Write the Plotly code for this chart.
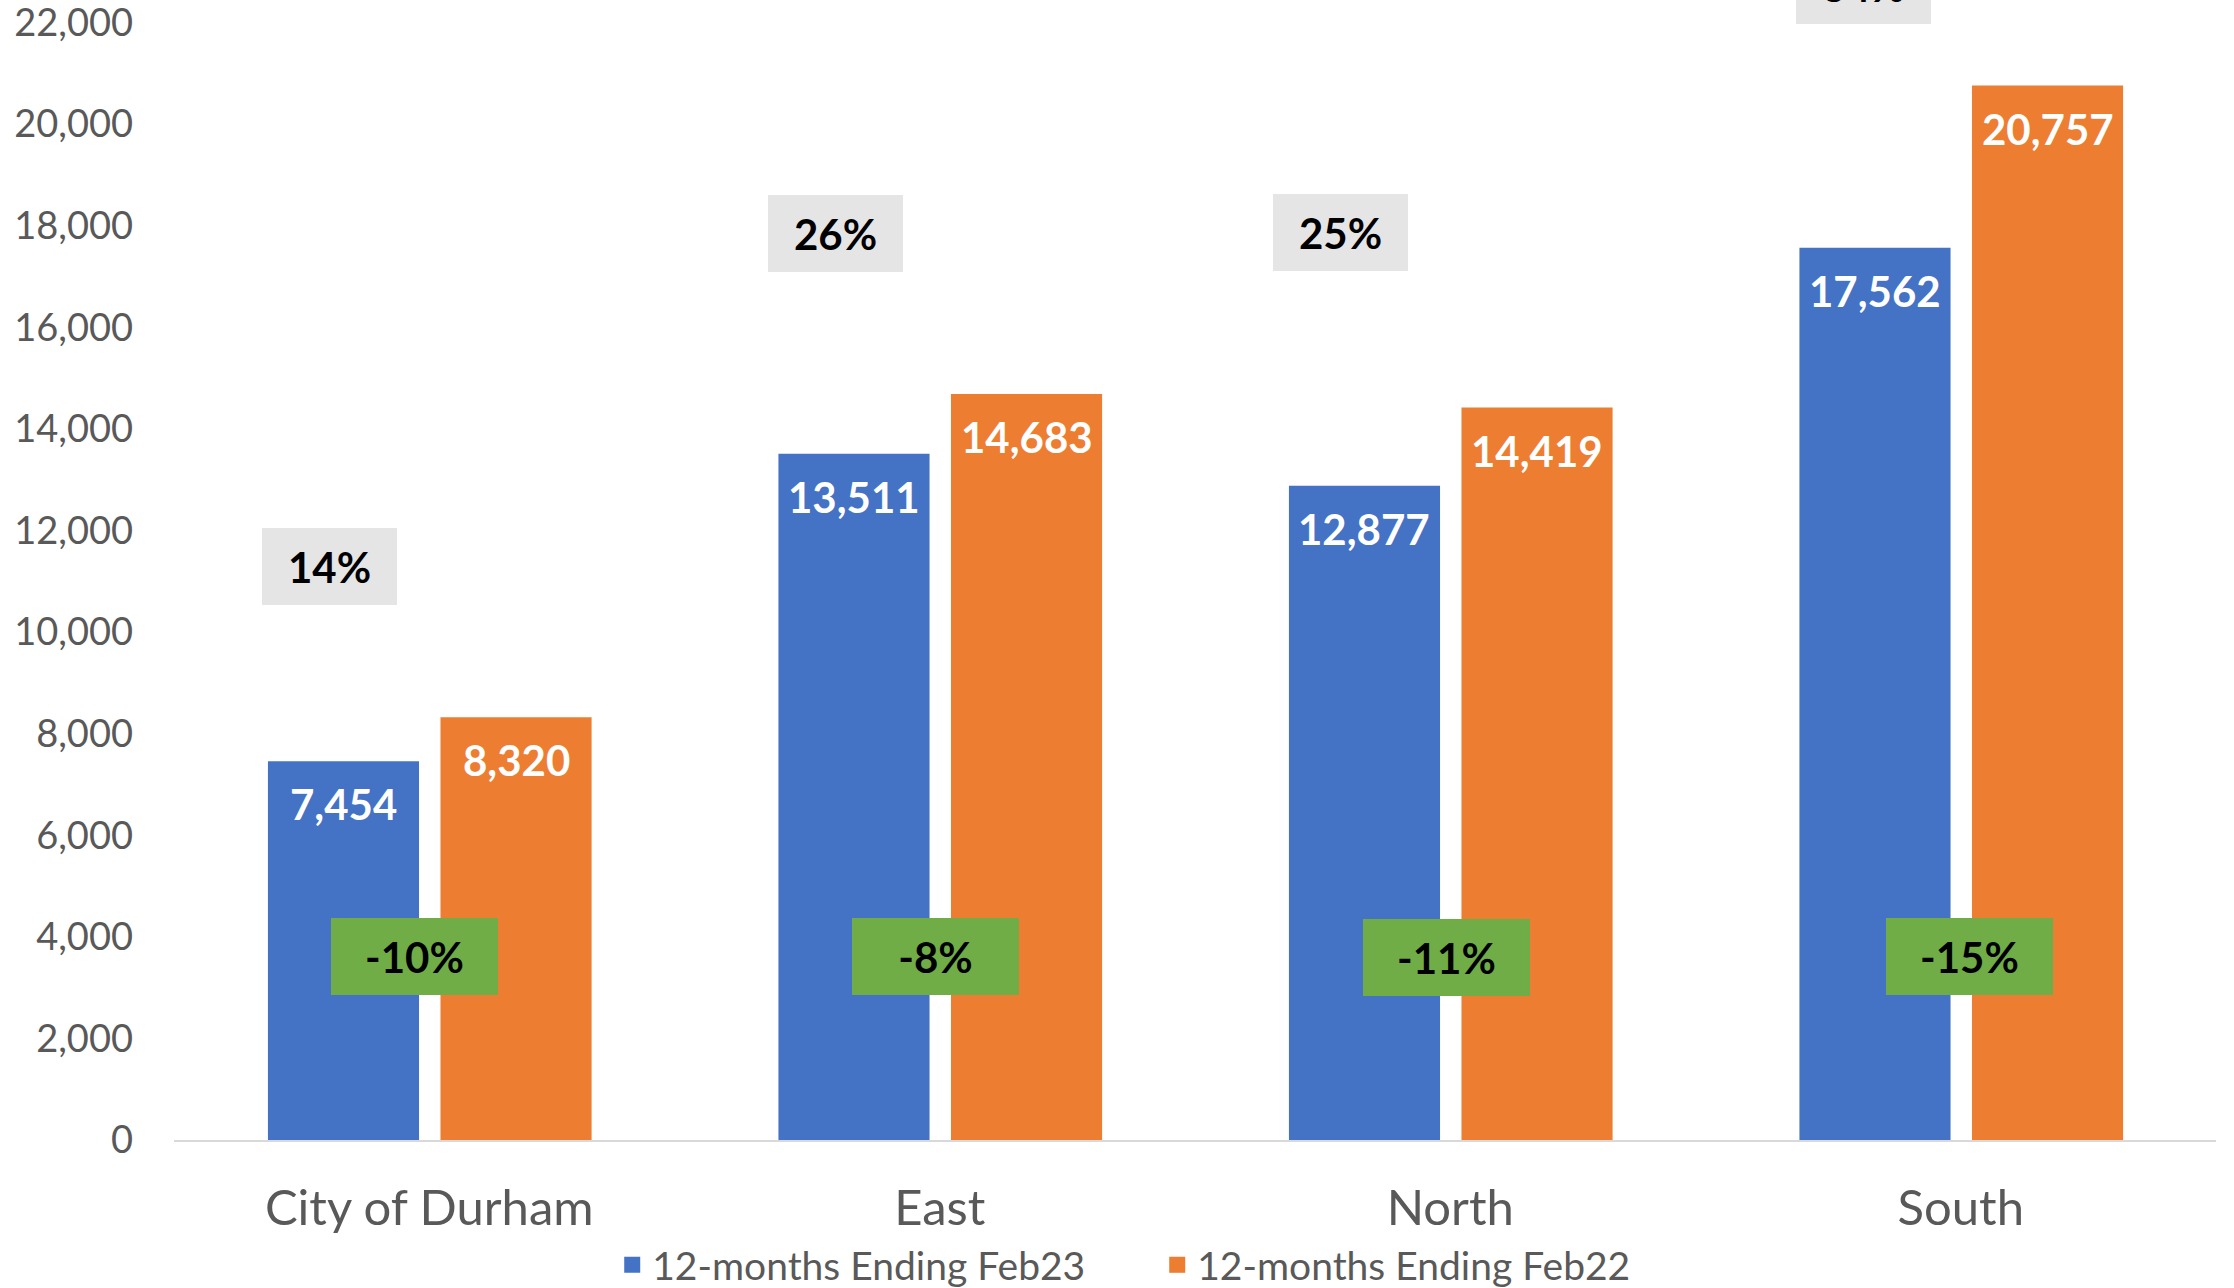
import plotly.graph_objects as go

categories = ["City of Durham", "East", "North", "South"]
feb23 = [7454, 13511, 12877, 17562]
feb22 = [8320, 14683, 14419, 20757]
series_names = ["12-months Ending Feb23", "12-months Ending Feb22"]
grey_labels = ["14%", "26%", "25%", "34%"]
grey_y = [11280, 17850, 17870, 22730]
green_labels = ["-10%", "-8%", "-11%", "-15%"]
green_y = [3620, 3620, 3600, 3620]
y_ticks = list(range(0, 22001, 2000))

BLUE = "#4472C4"
ORANGE = "#ED7D31"
GREEN = "#70AD47"
GREY = "#E5E5E5"
TXT = "#595959"
FONT = "Lato"

BAR_W = 0.296
OFF_BLUE = -0.316
OFF_ORANGE = 0.022
Y_TOP = 22441
grey_dx = [-0.195, -0.204, -0.215, -0.190]
green_dx = [-0.028, -0.008, -0.008, 0.017]

fig = go.Figure()
fig.add_trace(go.Bar(x=categories, y=feb23, name=series_names[0],
                     marker=dict(color=BLUE, line=dict(width=0)),
                     width=BAR_W, offset=OFF_BLUE, showlegend=False))
fig.add_trace(go.Bar(x=categories, y=feb22, name=series_names[1],
                     marker=dict(color=ORANGE, line=dict(width=0)),
                     width=BAR_W, offset=OFF_ORANGE, showlegend=False))
# legend entries (bigger square swatches)
for nm, col in zip(series_names, (BLUE, ORANGE)):
    fig.add_trace(go.Scatter(x=[None], y=[None], mode="markers", name=nm,
                             marker=dict(symbol="square", size=23, color=col),
                             showlegend=True))

ann = []
for i in range(len(categories)):
    for vals, off in ((feb23, OFF_BLUE), (feb22, OFF_ORANGE)):
        ann.append(dict(x=i + off + BAR_W / 2, y=vals[i], xref="x", yref="y",
                        text=f"<b>{vals[i]:,}</b>", showarrow=False,
                        yanchor="middle", yshift=-43,
                        font=dict(family=FONT, size=42, color="white")))
    ann.append(dict(x=i + grey_dx[i], y=grey_y[i] / Y_TOP, xref="x", yref="paper",
                    text=f"<b>{grey_labels[i]}</b>", showarrow=False,
                    xanchor="center", yanchor="middle",
                    bgcolor=GREY, width=135, height=77, borderpad=0,
                    borderwidth=0, align="center", valign="middle",
                    font=dict(family=FONT, size=42, color="black")))
    ann.append(dict(x=i + green_dx[i], y=green_y[i], xref="x", yref="y",
                    text=f"<b>{green_labels[i]}</b>", showarrow=False,
                    xanchor="center", yanchor="middle",
                    bgcolor=GREEN, width=167, height=77, borderpad=0,
                    borderwidth=0, align="center", valign="middle",
                    font=dict(family=FONT, size=42, color="black")))

fig.update_layout(
    width=2234, height=1288,
    margin=dict(l=174, r=18, t=0, b=148, autoexpand=False),
    paper_bgcolor="white", plot_bgcolor="white",
    barmode="group",
    showlegend=True,
    legend=dict(orientation="h", x=0.4815, xanchor="center",
                y=-0.1096, yanchor="middle",
                font=dict(family=FONT, size=39, color=TXT),
                entrywidth=500, entrywidthmode="pixels",
                itemsizing="trace",
                bgcolor="rgba(0,0,0,0)"),
    annotations=ann,
    font=dict(family=FONT, color=TXT),
)
fig.update_xaxes(showline=True, linecolor="#D9D9D9", linewidth=2,
                 showgrid=False, ticks="", ticklabelstandoff=24,
                 tickfont=dict(family=FONT, size=49, color=TXT),
                 range=[-0.5, 3.5])
fig.update_yaxes(range=[0, Y_TOP], tickvals=y_ticks,
                 ticktext=[f"{v:,}" for v in y_ticks],
                 showgrid=False, zeroline=False, showline=False, ticks="",
                 ticklabelstandoff=40, ticklabeloverflow="allow",
                 tickfont=dict(family=FONT, size=38, color=TXT))

fig.write_html("out.html",
               config={"displayModeBar": False},
               post_script="document.body.style.margin='0';document.body.style.overflow='hidden';")
